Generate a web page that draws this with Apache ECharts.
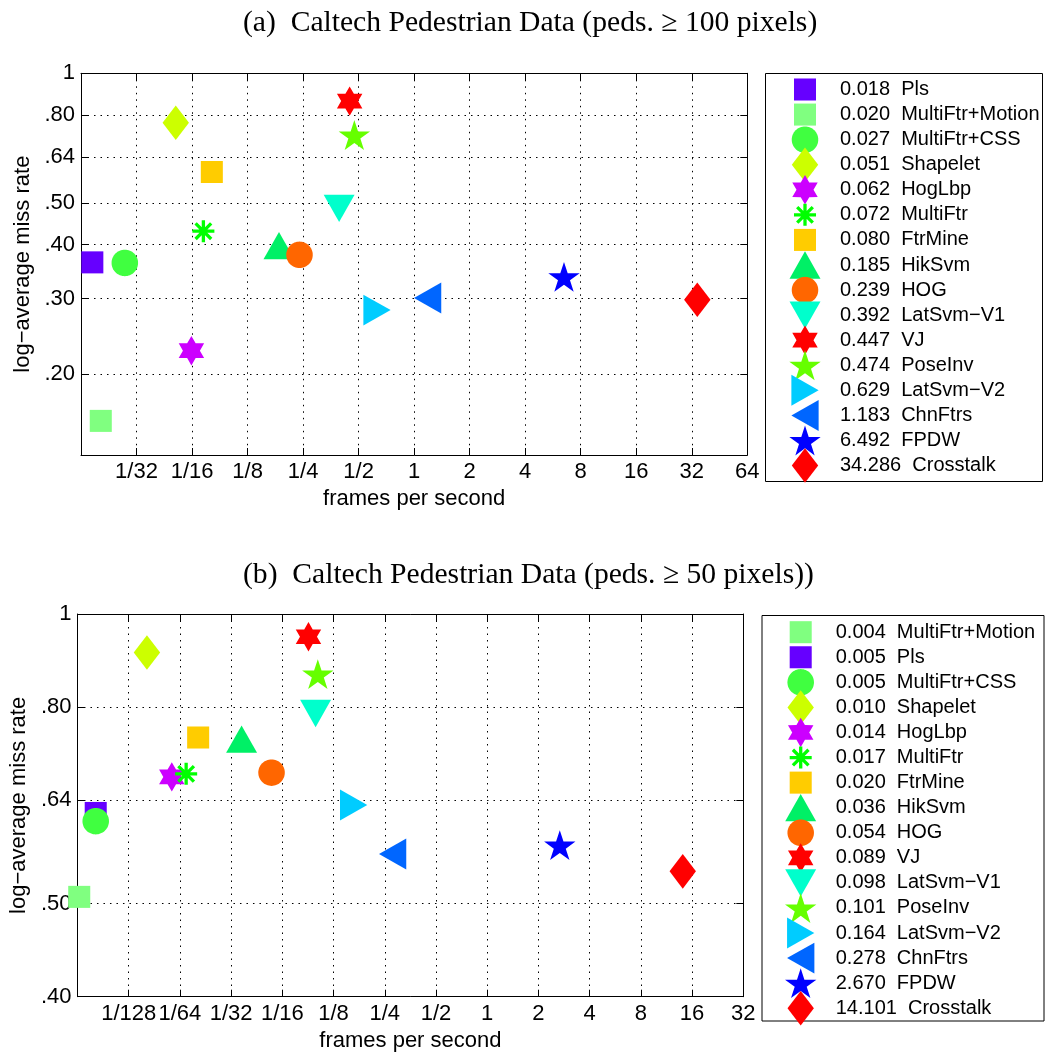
<!DOCTYPE html>
<html>
<head>
<meta charset="utf-8">
<script src="https://cdn.jsdelivr.net/npm/echarts@6/dist/echarts.min.js"></script>
<style>
html,body{margin:0;padding:0;background:#fff;}
#chart{width:1049px;height:1053px;}
</style>
</head>
<body>
<div id="chart"></div>
<script>
// Detection quality (log-average miss rate) against runtime (frames per second)
// for pedestrian detectors on the Caltech benchmark, two pedestrian scales.

// ---- (a) pedestrians >= 100 pixels ----
const methodsA = ['Pls','MultiFtr+Motion','MultiFtr+CSS','Shapelet','HogLbp','MultiFtr','FtrMine','HikSvm','HOG','LatSvm−V1','VJ','PoseInv','LatSvm−V2','ChnFtrs','FPDW','Crosstalk'];
const fpsA  = [0.018,0.020,0.027,0.051,0.062,0.072,0.080,0.185,0.239,0.392,0.447,0.474,0.629,1.183,6.492,34.286];
const missA = [0.364,0.156,0.363,0.768,0.227,0.430,0.590,0.398,0.379,0.486,0.862,0.719,0.282,0.301,0.337,0.298];

// ---- (b) pedestrians >= 50 pixels ----
const methodsB = ['MultiFtr+Motion','Pls','MultiFtr+CSS','Shapelet','HogLbp','MultiFtr','FtrMine','HikSvm','HOG','VJ','LatSvm−V1','PoseInv','LatSvm−V2','ChnFtrs','FPDW','Crosstalk'];
const fpsB  = [0.004,0.005,0.005,0.010,0.014,0.017,0.020,0.036,0.054,0.089,0.098,0.101,0.164,0.278,2.670,14.101];
const missB = [0.508,0.621,0.609,0.912,0.677,0.682,0.744,0.741,0.684,0.947,0.788,0.866,0.633,0.563,0.575,0.540];

// ---- axis ticks ----
const xTicksA = [1/64,1/32,1/16,1/8,1/4,1/2,1,2,4,8,16,32,64];
const xTickLabelsA = ['','1/32','1/16','1/8','1/4','1/2','1','2','4','8','16','32','64'];
const xTicksB = [1/256,1/128,1/64,1/32,1/16,1/8,1/4,1/2,1,2,4,8,16,32];
const xTickLabelsB = ['','1/128','1/64','1/32','1/16','1/8','1/4','1/2','1','2','4','8','16','32'];
const yTicksA = [0.2,0.3,0.4,0.5,0.64,0.8,1];
const yTickLabelsA = ['.20','.30','.40','.50','.64','.80','1'];
const yTicksB = [0.4,0.5,0.64,0.8,1];
const yTickLabelsB = ['.40','.50','.64','.80','1'];

const titleA = '(a)  Caltech Pedestrian Data (peds. ≥ 100 pixels)';
const titleB = '(b)  Caltech Pedestrian Data (peds. ≥ 50 pixels))';

// ---- marker shapes: polygons in a 100x100 box, drawn in a 36px symbol ----
function polyStr(pts) {
  return 'M' + pts.map(p => p[0].toFixed(2) + ' ' + p[1].toFixed(2)).join('L') + 'Z';
}
function withBox(body) { return 'path://M0 0M100 100' + body; }
function radial(n, radii, cx, cy, start) {
  const pts = [];
  for (let k = 0; k < n; k++) {
    const a = (start + k * 360 / n) * Math.PI / 180;
    const r = radii[k % radii.length];
    pts.push([cx + r * Math.cos(a), cy + r * Math.sin(a)]);
  }
  return pts;
}
function asterisk(L, w) {
  let s = '';
  [0, 45, 90, 135].forEach(d => {
    const a = d * Math.PI / 180, c = Math.cos(a), sn = Math.sin(a);
    const pts = [[-L,-w],[L,-w],[L,w],[-L,w]].map(p => [50 + p[0]*c - p[1]*sn, 50 + p[0]*sn + p[1]*c]);
    s += polyStr(pts);
  });
  return s;
}
const SHAPES = {
  square:   withBox(polyStr([[19.4,19.4],[80.6,19.4],[80.6,80.6],[19.4,80.6]])),
  circle:   withBox(polyStr(radial(64, [36.8], 50, 50, 0))),
  diamond:  withBox(polyStr([[50,2],[86.7,50],[50,98],[13.3,50]])),
  hexagram: withBox(polyStr(radial(12, [40.8, 23.6], 50, 50, -90))),
  pentagram:withBox(polyStr(radial(10, [45.8, 17.5], 50, 54.4, -90))),
  asterisk: withBox(asterisk(30.6, 4.6)),
  triUp:    withBox(polyStr([[50,12.1],[93,87.9],[7,87.9]])),
  triDown:  withBox(polyStr([[7,12.1],[93,12.1],[50,87.9]])),
  triRight: withBox(polyStr([[12.1,7],[87.9,50],[12.1,93]])),
  triLeft:  withBox(polyStr([[87.9,7],[12.1,50],[87.9,93]]))
};
const MARKER = {
  'Pls':             ['square',   '#6600ff'],
  'MultiFtr+Motion': ['square',   '#80ff80'],
  'MultiFtr+CSS':    ['circle',   '#40ff40'],
  'Shapelet':        ['diamond',  '#ccff00'],
  'HogLbp':          ['hexagram', '#cc00ff'],
  'MultiFtr':        ['asterisk', '#00ff00'],
  'FtrMine':         ['square',   '#ffcc00'],
  'HikSvm':          ['triUp',    '#00f066'],
  'HOG':             ['circle',   '#ff6600'],
  'LatSvm−V1':       ['triDown',  '#00ffcc'],
  'VJ':              ['hexagram', '#ff0000'],
  'PoseInv':         ['pentagram','#66ff00'],
  'LatSvm−V2':       ['triRight', '#00ccff'],
  'ChnFtrs':         ['triLeft',  '#0066ff'],
  'FPDW':            ['pentagram','#0000ff'],
  'Crosstalk':       ['diamond',  '#ff0000']
};

const FONT = "'Liberation Sans', Arial, Helvetica, sans-serif";
const SERIF = "'Liberation Serif', 'Times New Roman', serif";

function tickLabel(ticks, labels) {
  return v => {
    let best = 0, bd = Infinity;
    ticks.forEach((t, i) => { const d = Math.abs(Math.log(t) - Math.log(v)); if (d < bd) { bd = d; best = i; } });
    return labels[best];
  };
}

function xAxisCfg(grid, ticks, labels, pos, main, name) {
  return {
    type: 'log', logBase: 2, gridIndex: grid, position: pos,
    min: ticks[0], max: ticks[ticks.length - 1],
    axisLine: { show: true, lineStyle: { color: '#000', width: 1 } },
    axisTick: { show: true, inside: true, length: 7, customValues: ticks, lineStyle: { color: '#000', width: 1 } },
    axisLabel: { show: main, customValues: ticks, formatter: tickLabel(ticks, labels), margin: 6,
                 fontSize: 22, fontFamily: FONT, color: '#000' },
    splitLine: { show: main, lineStyle: { type: [1.5, 5], color: '#000', width: 1 } },
    name: main ? name : '', nameLocation: 'middle', nameGap: 33,
    nameTextStyle: { fontSize: 22, fontFamily: FONT, color: '#000' }
  };
}
function yAxisCfg(grid, min, ticks, labels, pos, main, name) {
  return {
    type: 'log', logBase: 10, gridIndex: grid, position: pos, min: min, max: 1,
    axisLine: { show: true, lineStyle: { color: '#000', width: 1 } },
    axisTick: { show: true, inside: true, length: 7, customValues: ticks, lineStyle: { color: '#000', width: 1 } },
    axisLabel: { show: main, customValues: ticks, formatter: tickLabel(ticks, labels), margin: 6,
                 fontSize: 22, fontFamily: FONT, color: '#000' },
    splitLine: { show: main, lineStyle: { type: [1.5, 5], color: '#000', width: 1 } },
    name: main ? name : '', nameLocation: 'middle', nameGap: 45,
    nameTextStyle: { fontSize: 22, fontFamily: FONT, color: '#000' }
  };
}

function seriesFor(methods, fps, miss, xi, yi) {
  return methods.map((m, i) => ({
    type: 'scatter', name: m, xAxisIndex: xi, yAxisIndex: yi, clip: false,
    symbol: SHAPES[MARKER[m][0]], symbolSize: 36,
    itemStyle: { color: MARKER[m][1], opacity: 1 },
    emphasis: { disabled: true },
    data: [[fps[i], miss[i]]]
  }));
}
function legendFor(methods, fps, left, top) {
  return {
    orient: 'vertical', left: left, top: top, padding: 0,
    itemWidth: 60, itemHeight: 36, itemGap: 25.07 - 36,
    selectedMode: false, borderWidth: 0,
    data: methods.map(m => ({ name: m, icon: SHAPES[MARKER[m][0]] })),
    formatter: name => fps[methods.indexOf(name)].toFixed(3) + '  ' + name,
    textStyle: { fontSize: 20, fontFamily: FONT, color: '#000' }
  };
}

const chart = echarts.init(document.getElementById('chart'), null, { renderer: 'canvas' });
chart.setOption({
  animation: false,
  backgroundColor: '#fff',
  title: [
    { text: titleA, left: 243, top: 8, padding: 0,
      textStyle: { fontFamily: SERIF, fontSize: 29.6, fontWeight: 'normal', color: '#000' } },
    { text: titleB, left: 243, top: 560, padding: 0,
      textStyle: { fontFamily: SERIF, fontSize: 29.6, fontWeight: 'normal', color: '#000' } }
  ],
  grid: [
    { left: 81, top: 73.3, width: 666.3, height: 381.7, show: false },
    { left: 77, top: 614, width: 666.3, height: 382.7, show: false }
  ],
  xAxis: [
    xAxisCfg(0, xTicksA, xTickLabelsA, 'bottom', true, 'frames per second'),
    xAxisCfg(0, xTicksA, xTickLabelsA, 'top', false, ''),
    xAxisCfg(1, xTicksB, xTickLabelsB, 'bottom', true, 'frames per second'),
    xAxisCfg(1, xTicksB, xTickLabelsB, 'top', false, '')
  ],
  yAxis: [
    yAxisCfg(0, 0.13, yTicksA, yTickLabelsA, 'left', true, 'log−average miss rate'),
    yAxisCfg(0, 0.13, yTicksA, yTickLabelsA, 'right', false, ''),
    yAxisCfg(1, 0.4, yTicksB, yTickLabelsB, 'left', true, 'log−average miss rate'),
    yAxisCfg(1, 0.4, yTicksB, yTickLabelsB, 'right', false, '')
  ],
  legend: [
    legendFor(methodsA, fpsA, 787, 71.5),
    legendFor(methodsB, fpsB, 782.7, 614.2)
  ],
  graphic: [
    { type: 'rect', shape: { x: 765.5, y: 73.5, width: 277, height: 408 },
      style: { fill: 'none', stroke: '#000', lineWidth: 1 }, silent: true },
    { type: 'rect', shape: { x: 762, y: 615.5, width: 282, height: 405.5 },
      style: { fill: 'none', stroke: '#000', lineWidth: 1 }, silent: true }
  ],
  series: seriesFor(methodsA, fpsA, missA, 0, 0).concat(seriesFor(methodsB, fpsB, missB, 2, 2))
});
</script>
</body>
</html>
